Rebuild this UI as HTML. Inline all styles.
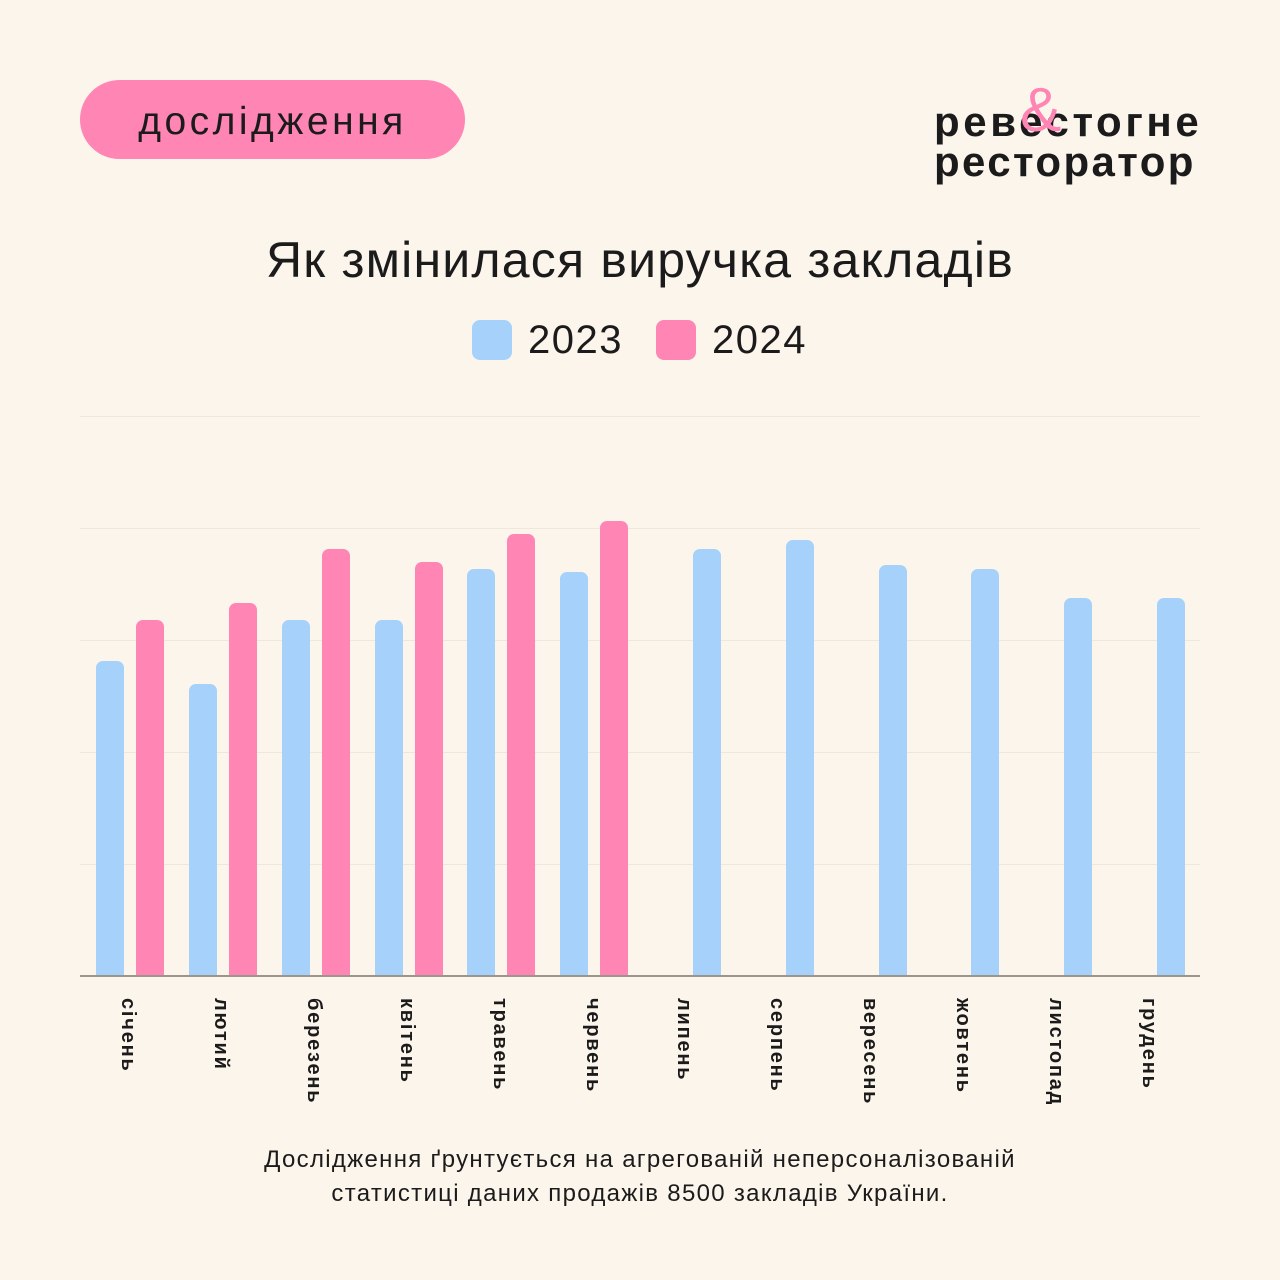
<!DOCTYPE html>
<html><head><meta charset="utf-8"><style>
body{margin:0;width:1280px;height:1280px;background:#fcf5ec;position:relative;overflow:hidden;font-family:"Liberation Sans","DejaVu Sans",sans-serif;color:#1c1b1b}
.a{position:absolute}
.pill{left:80px;top:80px;width:385px;height:79px;border-radius:40px;background:#ff85b4;font-size:39px;line-height:84px;text-align:center;letter-spacing:3.5px}
.logo{left:934px;top:102px;font-size:42px;font-weight:bold;line-height:40px;white-space:nowrap}
.amp{left:1020px;top:80px;font-size:62px;color:#ff85b4;line-height:62px}
.title{left:0;width:1280px;top:231px;text-align:center;font-size:50px;letter-spacing:1.2px}
.sw{width:40px;height:40px;border-radius:8px}
.leg{font-size:40px;top:318px;letter-spacing:1.5px}
.g{left:80px;width:1120px;height:1px;background:#efe6dc}
.b{width:28px;border-radius:7px 7px 0 0}
.c{background:#a5d1fb}.p{background:#ff85b4}
.lab{top:998px;width:40px;writing-mode:vertical-rl;font-size:20px;font-weight:bold;line-height:40px;text-align:left;letter-spacing:1.8px}
.foot{left:0;width:1280px;top:1143px;text-align:center;font-size:24px;line-height:34px;letter-spacing:1.3px}
</style></head><body>
<div class="a pill">дослідження</div>
<div class="a logo"><span style="letter-spacing:3.6px">ревестогне</span><br><span style="letter-spacing:2.4px">ресторатор</span></div>
<div class="a amp">&amp;</div>
<div class="a title">Як змінилася виручка закладів</div>
<div class="a sw c" style="left:472px;top:320px"></div>
<div class="a leg" style="left:528px">2023</div>
<div class="a sw p" style="left:656px;top:320px"></div>
<div class="a leg" style="left:712px">2024</div>
<div class="a g" style="top:416px"></div>
<div class="a g" style="top:528px"></div>
<div class="a g" style="top:640px"></div>
<div class="a g" style="top:752px"></div>
<div class="a g" style="top:864px"></div>
<div class="a" style="left:80px;top:975px;width:1120px;height:2px;background:#9c958c"></div>
<div class="a b c" style="left:96px;top:661px;height:314px"></div>
<div class="a b p" style="left:136px;top:620px;height:355px"></div>
<div class="a b c" style="left:189px;top:684px;height:291px"></div>
<div class="a b p" style="left:229px;top:603px;height:372px"></div>
<div class="a b c" style="left:282px;top:620px;height:355px"></div>
<div class="a b p" style="left:322px;top:549px;height:426px"></div>
<div class="a b c" style="left:375px;top:620px;height:355px"></div>
<div class="a b p" style="left:415px;top:562px;height:413px"></div>
<div class="a b c" style="left:467px;top:569px;height:406px"></div>
<div class="a b p" style="left:507px;top:534px;height:441px"></div>
<div class="a b c" style="left:560px;top:572px;height:403px"></div>
<div class="a b p" style="left:600px;top:521px;height:454px"></div>
<div class="a b c" style="left:693px;top:549px;height:426px"></div>
<div class="a b c" style="left:786px;top:540px;height:435px"></div>
<div class="a b c" style="left:879px;top:565px;height:410px"></div>
<div class="a b c" style="left:971px;top:569px;height:406px"></div>
<div class="a b c" style="left:1064px;top:598px;height:377px"></div>
<div class="a b c" style="left:1157px;top:598px;height:377px"></div>
<div class="a lab" style="left:108px">січень</div>
<div class="a lab" style="left:201px">лютий</div>
<div class="a lab" style="left:294px">березень</div>
<div class="a lab" style="left:387px">квітень</div>
<div class="a lab" style="left:480px">травень</div>
<div class="a lab" style="left:573px">червень</div>
<div class="a lab" style="left:664px">липень</div>
<div class="a lab" style="left:757px">серпень</div>
<div class="a lab" style="left:850px">вересень</div>
<div class="a lab" style="left:943px">жовтень</div>
<div class="a lab" style="left:1036px">листопад</div>
<div class="a lab" style="left:1129px">грудень</div>
<div class="a foot">Дослідження ґрунтується на агрегованій неперсоналізованій<br>статистиці даних продажів 8500 закладів України.</div>
</body></html>
